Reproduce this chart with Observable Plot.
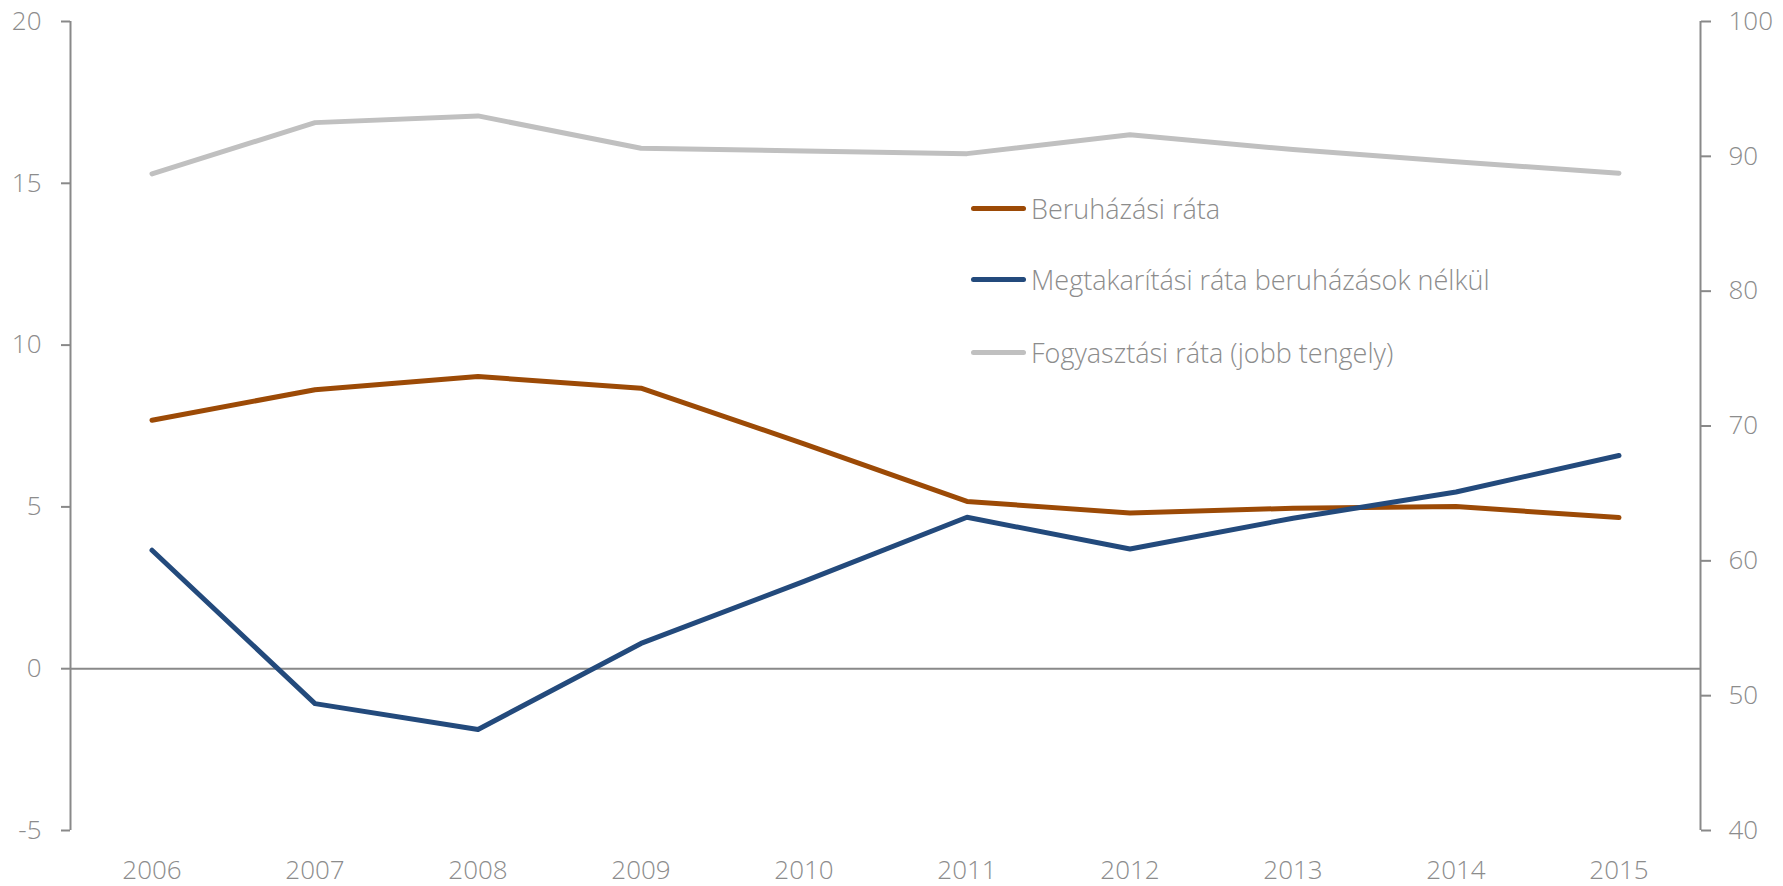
<!DOCTYPE html>
<html>
<head>
<meta charset="utf-8">
<script src="https://cdn.jsdelivr.net/npm/d3@7"></script>
<script src="https://cdn.jsdelivr.net/npm/@observablehq/plot@0.6"></script>
<style>
  html, body { margin: 0; padding: 0; background: #fff; }
  #wrap { position: relative; width: 1783px; height: 886px; font-family: "Open Sans", "Segoe UI", sans-serif; font-weight: 300; }
  #legend { position: absolute; left: 971px; top: 180px; }
  .item { position: absolute; left: 0; height: 40px; display: flex; align-items: center; white-space: nowrap; color: #8c8c8c; font-size: 27px; }
  .swatch { width: 55px; height: 5px; border-radius: 3px; margin-right: 5px; }
</style>
</head>
<body>
<div id="wrap"><div id="legend"></div></div>
<script>
const years = [2006, 2007, 2008, 2009, 2010, 2011, 2012, 2013, 2014, 2015];
const beruhazasi = [7.68, 8.62, 9.03, 8.67, 6.95, 5.17, 4.81, 4.96, 5.01, 4.67];
const megtakaritasi = [3.66, -1.08, -1.88, 0.78, 2.7, 4.68, 3.70, 4.65, 5.46, 6.59];
const fogyasztasi = [88.7, 92.5, 93.0, 90.6, 90.4, 90.2, 91.6, 90.5, 89.6, 88.75];
const leftTicks = [-5, 0, 5, 10, 15, 20];
const rightTicks = [40, 50, 60, 70, 80, 90, 100];
const seriesNames = ["Beruházási ráta", "Megtakarítási ráta beruházások nélkül", "Fogyasztási ráta (jobb tengely)"];
const seriesColors = ["#9c4a06", "#234a7c", "#c0c0c0"];

// right axis [40,100] mapped onto left axis [-5,20]
const toLeft = v => -5 + (v - 40) * 25 / 60;
const fromLeft = d => Math.round(40 + (d + 5) * 60 / 25);

const rows = [];
years.forEach((yr, i) => {
  rows.push({year: yr, value: beruhazasi[i], s: seriesNames[0]});
  rows.push({year: yr, value: megtakaritasi[i], s: seriesNames[1]});
  rows.push({year: yr, value: toLeft(fogyasztasi[i]), s: seriesNames[2]});
});

const axisColor = "#898989";
const textColor = "#8c8c8c";

const chart = Plot.plot({
  width: 1783,
  height: 886,
  marginLeft: 70,
  marginRight: 83,
  marginTop: 21,
  marginBottom: 56,
  style: {fontFamily: "'Open Sans', 'Segoe UI', sans-serif", fontWeight: 300, color: textColor, background: "transparent"},
  x: {domain: [years[0] - 0.5, years[years.length - 1] + 0.5]},
  y: {domain: [-5, 20]},
  color: {domain: seriesNames, range: seriesColors},
  marks: [
    Plot.ruleX([years[0] - 0.5, years[years.length - 1] + 0.5], {y1: -5, y2: 20, stroke: axisColor, strokeWidth: 2}),
    Plot.ruleY([0], {stroke: axisColor, strokeWidth: 2}),
    Plot.axisY(leftTicks, {anchor: "left", tickSize: 9, tickPadding: 20, fontSize: 26, stroke: axisColor, strokeWidth: 2, fill: textColor, label: null, tickFormat: d => String(d)}),
    Plot.axisY(rightTicks.map(toLeft), {anchor: "right", tickSize: 10, tickPadding: 18, fontSize: 26, stroke: axisColor, strokeWidth: 2, fill: textColor, label: null, tickFormat: d => String(fromLeft(d))}),
    Plot.axisX(years, {anchor: "bottom", tickSize: 0, tickPadding: 30, fontSize: 26, fill: textColor, label: null, tickFormat: d => String(d)}),
    Plot.line(rows, {x: "year", y: "value", z: "s", stroke: "s", strokeWidth: 5, strokeLinecap: "round", strokeLinejoin: "round"})
  ]
});
document.getElementById("wrap").prepend(chart);

const legend = document.getElementById("legend");
const rowTops = [8, 79, 152];
seriesNames.forEach((name, i) => {
  const it = document.createElement("div");
  it.className = "item";
  it.style.top = rowTops[i] + "px";
  const sw = document.createElement("div");
  sw.className = "swatch";
  sw.style.background = seriesColors[i];
  const tx = document.createElement("span");
  tx.textContent = name;
  it.appendChild(sw);
  it.appendChild(tx);
  legend.appendChild(it);
});
</script>
</body>
</html>
